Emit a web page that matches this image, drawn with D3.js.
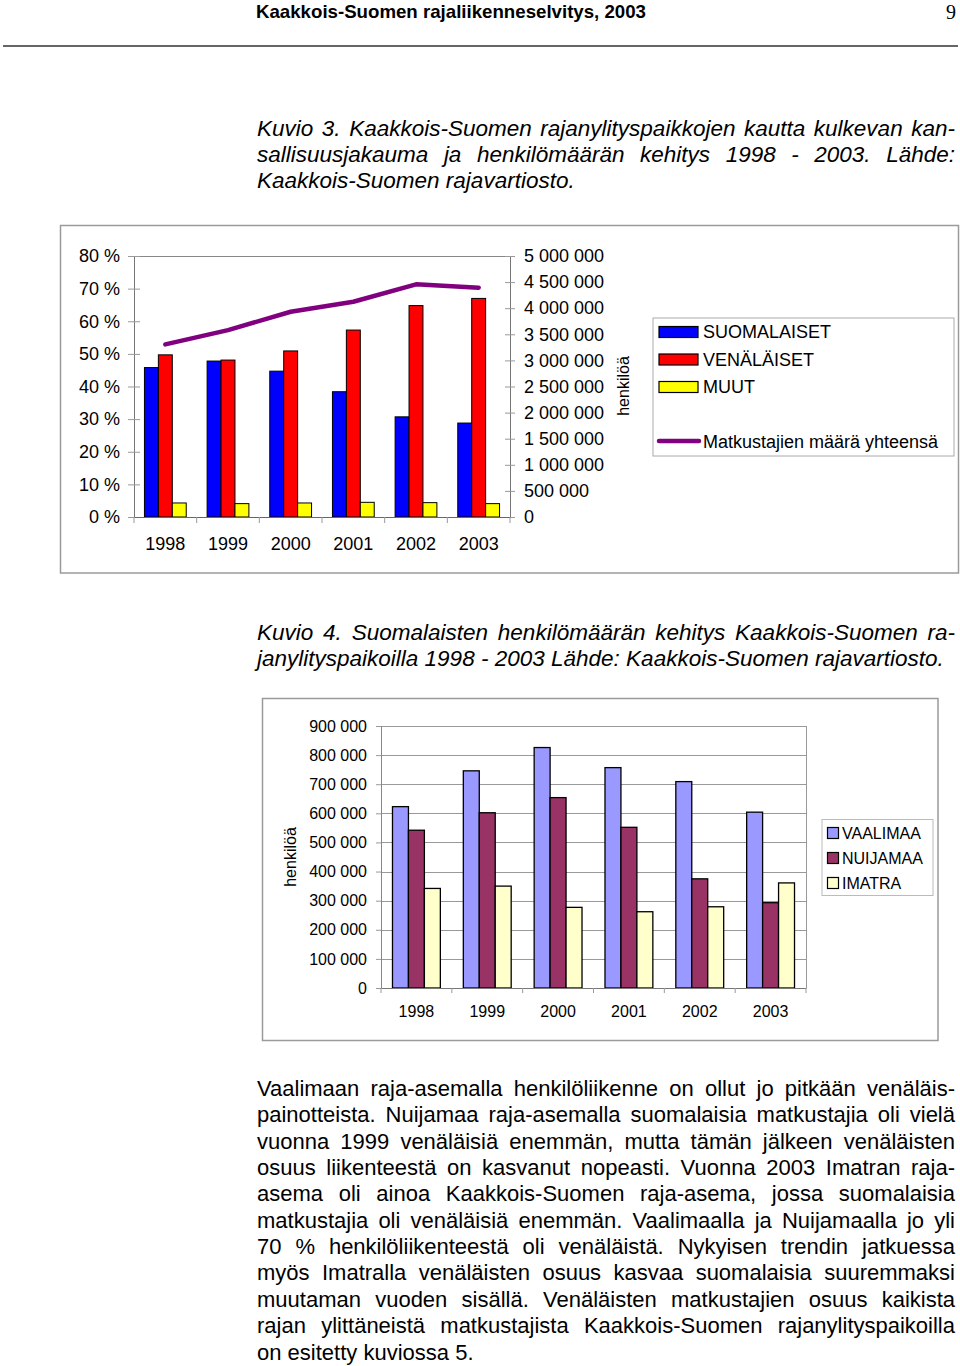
<!DOCTYPE html>
<html><head><meta charset="utf-8">
<script src="https://cdn.jsdelivr.net/npm/d3@7"></script>
<style>
body{margin:0;background:#fff}
svg{display:block}
text{font-family:'Liberation Sans',Arial,Helvetica,sans-serif;fill:#000}
</style>
</head><body>
<svg id="page" width="960" height="1366"></svg>
<script>
// ---------- DATA ----------
const years = ['1998','1999','2000','2001','2002','2003'];
// Kuvio 3: share of nationality (%)
const suomalaiset = [45.8, 47.8, 44.7, 38.4, 30.7, 28.8];
const venalaiset  = [49.7, 48.1, 50.9, 57.3, 64.8, 67.0];
const muut        = [4.3, 4.1, 4.3, 4.5, 4.4, 4.1];
// total travellers (right axis)
const yhteensa    = [3306000, 3581000, 3932000, 4124000, 4457000, 4393000];
const series1Names = ['SUOMALAISET','VENÄLÄISET','MUUT'];
const lineName = 'Matkustajien määrä yhteensä';
const pctTicks = [0,10,20,30,40,50,60,70,80];
const totalTicks = [0,500000,1000000,1500000,2000000,2500000,3000000,3500000,4000000,4500000,5000000];
// Kuvio 4: Finnish travellers by border station
const vaalimaa = [623000, 746000, 826000, 757000, 709000, 604000];
const nuijamaa = [542000, 602000, 654000, 552000, 375000, 293000];
const imatra   = [342000, 350000, 277000, 262000, 279000, 361000];
const series2Names = ['VAALIMAA','NUIJAMAA','IMATRA'];
const persTicks = [0,100000,200000,300000,400000,500000,600000,700000,800000,900000];
const yLabel = 'henkilöä';

const headerText = 'Kaakkois-Suomen rajaliikenneselvitys, 2003';
const pageNo = '9';
const caption3 = ['Kuvio 3. Kaakkois-Suomen rajanylityspaikkojen kautta kulkevan kan-',
  'sallisuusjakauma ja henkilömäärän kehitys 1998 - 2003. Lähde:',
  'Kaakkois-Suomen rajavartiosto.'];
const caption4 = ['Kuvio 4. Suomalaisten henkilömäärän kehitys Kaakkois-Suomen ra-',
  'janylityspaikoilla 1998 - 2003 Lähde: Kaakkois-Suomen rajavartiosto.'];
const bodyLines = [
  'Vaalimaan raja-asemalla henkilöliikenne on ollut jo pitkään venäläis-',
  'painotteista. Nuijamaa raja-asemalla suomalaisia matkustajia oli vielä',
  'vuonna 1999 venäläisiä enemmän, mutta tämän jälkeen venäläisten',
  'osuus liikenteestä on kasvanut nopeasti. Vuonna 2003 Imatran raja-',
  'asema oli ainoa Kaakkois-Suomen raja-asema, jossa suomalaisia',
  'matkustajia oli venäläisiä enemmän. Vaalimaalla ja Nuijamaalla jo yli',
  '70 % henkilöliikenteestä oli venäläistä. Nykyisen trendin jatkuessa',
  'myös Imatralla venäläisten osuus kasvaa suomalaisia suuremmaksi',
  'muutaman vuoden sisällä. Venäläisten matkustajien osuus kaikista',
  'rajan ylittäneistä matkustajista Kaakkois-Suomen rajanylityspaikoilla',
  'on esitetty kuviossa 5.'];

// ---------- HELPERS ----------
const svg = d3.select('#page');
svg.append('rect').attr('width',960).attr('height',1366).attr('fill','#fff');
const fi = d3.formatLocale({decimal:',', thousands:' ', grouping:[3], currency:['','']});
const fmtN = fi.format(',');

function textLines(lines, x0, x1, y0, lh, size, italic){
  const g = svg.append('g').attr('font-size', size).attr('font-style', italic ? 'italic' : 'normal');
  const probe = g.append('text').text('x x');
  const probe2 = g.append('text').text('xx');
  const spaceW = probe.node().getComputedTextLength() - probe2.node().getComputedTextLength();
  probe.remove(); probe2.remove();
  lines.forEach((line, li) => {
    const y = y0 + li * lh;
    const last = li === lines.length - 1;
    const words = line.split(' ');
    const nodes = words.map(w => g.append('text').attr('y', y).text(w));
    const widths = nodes.map(n => n.node().getComputedTextLength());
    const total = d3.sum(widths);
    let gap = last || words.length < 2 ? spaceW : (x1 - x0 - total) / (words.length - 1);
    let k = 1;
    if (gap < spaceW * 0.6) { gap = spaceW * 0.6; k = (x1 - x0 - gap*(words.length-1)) / total; }
    let x = x0;
    nodes.forEach((n, i) => {
      n.attr('x', x);
      if (k !== 1) n.attr('textLength', widths[i]*k).attr('lengthAdjust','spacingAndGlyphs');
      x += widths[i]*k + gap;
    });
  });
}

// ---------- PAGE HEADER ----------
svg.append('text').attr('x',256).attr('y',18).attr('font-size',19).attr('font-weight','bold')
  .attr('textLength',390).attr('lengthAdjust','spacingAndGlyphs').text(headerText);
svg.append('text').attr('x',956).attr('y',19).attr('text-anchor','end').attr('font-size',20)
  .style('font-family',"'Liberation Serif','Times New Roman',serif").text(pageNo);
svg.append('line').attr('x1',3).attr('x2',958).attr('y1',46).attr('y2',46).attr('stroke','#333').attr('stroke-width',1.5);

textLines(caption3, 257, 955, 135.5, 26.2, 22.5, true);
textLines(caption4, 257, 955, 640, 26.2, 22.5, true);
textLines(bodyLines, 257, 955, 1096, 26.35, 22, false);

// ---------- CHART 1 ----------
(function(){
  const c = {left:134, right:510, top:256, bottom:517};
  svg.append('rect').attr('x',60.5).attr('y',225.5).attr('width',898).attr('height',347.5)
    .attr('fill','none').attr('stroke','#9a9a9a').attr('stroke-width',1.5);
  const g = svg.append('g').attr('font-size',18);
  const x0 = d3.scaleBand().domain(years).range([c.left, c.right]).padding(0);
  const xs = d3.scaleBand().domain(series1Names).range([0, x0.bandwidth()]).paddingInner(0).paddingOuter(0.75);
  const y = d3.scaleLinear().domain([0,80]).range([c.bottom, c.top]);
  const yR = d3.scaleLinear().domain([0,5000000]).range([c.bottom, c.top]);
  const colors = ['#0000ff','#ff0000','#ffff00'];
  const vals = [suomalaiset, venalaiset, muut];

  g.append('line').attr('x1',c.left).attr('x2',c.right).attr('y1',c.top+0.5).attr('y2',c.top+0.5).attr('stroke','#888');

  const la = g.append('g').attr('transform',`translate(${c.left},0)`)
    .call(d3.axisLeft(y).tickValues(pctTicks).tickFormat(d => d + ' %').tickSize(6).tickPadding(8));
  la.select('.domain').attr('stroke','#777');
  la.selectAll('.tick line').attr('stroke','#999').attr('x2',-6).attr('x1',6);
  la.selectAll('text').attr('font-size',18).attr('font-family',"'Liberation Sans',Arial,sans-serif");

  const ra = g.append('g').attr('transform',`translate(${c.right},0)`)
    .call(d3.axisRight(yR).tickValues(totalTicks).tickFormat(fmtN).tickSize(5).tickPadding(9));
  ra.select('.domain').attr('stroke','#777');
  ra.selectAll('.tick line').attr('stroke','#999').attr('x1',-5);
  ra.selectAll('text').attr('font-size',18).attr('font-family',"'Liberation Sans',Arial,sans-serif");

  vals.forEach((arr, si) => {
    g.append('g').selectAll('rect').data(arr).join('rect')
      .attr('x', (d,i) => x0(years[i]) + xs(series1Names[si]))
      .attr('y', d => y(d))
      .attr('width', xs.bandwidth())
      .attr('height', d => y(0) - y(d))
      .attr('fill', colors[si]).attr('stroke','#000').attr('stroke-width',1);
  });

  const ba = g.append('g').attr('transform',`translate(0,${c.bottom})`)
    .call(d3.axisBottom(x0).tickSize(0).tickPadding(20));
  ba.select('.domain').attr('stroke','#666');
  ba.selectAll('text').attr('font-size',18).attr('font-family',"'Liberation Sans',Arial,sans-serif");
  const bounds = years.map(d => x0(d)).concat([x0(years[years.length-1]) + x0.bandwidth()]);
  g.append('g').selectAll('line').data(bounds).join('line')
    .attr('x1', d => d).attr('x2', d => d).attr('y1', c.bottom).attr('y2', c.bottom + 6).attr('stroke','#999');

  const line = d3.line().x((d,i) => x0(years[i]) + x0.bandwidth()/2).y(d => yR(d));
  g.append('path').datum(yhteensa).attr('d', line).attr('fill','none')
    .attr('stroke','#800080').attr('stroke-width',4.5).attr('stroke-linecap','round').attr('stroke-linejoin','round');

  g.append('text').attr('transform','translate(629,386) rotate(-90)').attr('text-anchor','middle')
    .attr('font-size',16).text(yLabel);

  const lg = g.append('g');
  lg.append('rect').attr('x',653).attr('y',318).attr('width',301).attr('height',138)
    .attr('fill','#fff').attr('stroke','#aaa').attr('stroke-width',1);
  const ly = [332, 359.5, 387];
  series1Names.forEach((n, i) => {
    lg.append('rect').attr('x',659).attr('y',ly[i]-5.5).attr('width',39).attr('height',11)
      .attr('fill',colors[i]).attr('stroke','#000').attr('stroke-width',1.2);
    lg.append('text').attr('x',703).attr('y',ly[i]).attr('dy','0.36em').attr('font-size',18).text(n);
  });
  lg.append('line').attr('x1',659).attr('x2',699).attr('y1',441).attr('y2',441)
    .attr('stroke','#800080').attr('stroke-width',4.5).attr('stroke-linecap','round');
  lg.append('text').attr('x',703).attr('y',442).attr('dy','0.36em').attr('font-size',18).text(lineName);
})();

// ---------- CHART 2 ----------
(function(){
  const c = {left:381, right:806, top:726, bottom:988};
  svg.append('rect').attr('x',262.5).attr('y',698.5).attr('width',675.5).attr('height',342)
    .attr('fill','none').attr('stroke','#9a9a9a').attr('stroke-width',1.5);
  const g = svg.append('g').attr('font-size',16);
  const x0 = d3.scaleBand().domain(years).range([c.left, c.right]).padding(0);
  const xs = d3.scaleBand().domain(series2Names).range([0, x0.bandwidth()]).paddingInner(0).paddingOuter(0.72);
  const y = d3.scaleLinear().domain([0,900000]).range([c.bottom, c.top]);
  const colors = ['#9999ff','#993366','#ffffcc'];
  const vals = [vaalimaa, nuijamaa, imatra];

  g.append('g').selectAll('line').data(persTicks.slice(1)).join('line')
    .attr('x1', c.left).attr('x2', c.right).attr('y1', d => Math.round(y(d))+0.5).attr('y2', d => Math.round(y(d))+0.5)
    .attr('stroke','#999').attr('stroke-width',1);
  g.append('line').attr('x1',c.right+0.5).attr('x2',c.right+0.5).attr('y1',c.top).attr('y2',c.bottom).attr('stroke','#999');

  const la = g.append('g').attr('transform',`translate(${c.left},0)`)
    .call(d3.axisLeft(y).tickValues(persTicks).tickFormat(fmtN).tickSize(5).tickPadding(9));
  la.select('.domain').attr('stroke','#888');
  la.selectAll('.tick line').attr('stroke','#999');
  la.selectAll('text').attr('font-size',16).attr('font-family',"'Liberation Sans',Arial,sans-serif");

  vals.forEach((arr, si) => {
    g.append('g').selectAll('rect').data(arr).join('rect')
      .attr('x', (d,i) => x0(years[i]) + xs(series2Names[si]))
      .attr('y', d => y(d))
      .attr('width', xs.bandwidth())
      .attr('height', d => y(0) - y(d))
      .attr('fill', colors[si]).attr('stroke','#000').attr('stroke-width',1.3);
  });

  const ba = g.append('g').attr('transform',`translate(0,${c.bottom})`)
    .call(d3.axisBottom(x0).tickSize(0).tickPadding(18));
  ba.select('.domain').attr('stroke','#777');
  ba.selectAll('text').attr('font-size',16).attr('font-family',"'Liberation Sans',Arial,sans-serif");
  const bounds = years.map(d => x0(d)).concat([x0(years[years.length-1]) + x0.bandwidth()]);
  g.append('g').selectAll('line').data(bounds).join('line')
    .attr('x1', d => d).attr('x2', d => d).attr('y1', c.bottom).attr('y2', c.bottom + 5).attr('stroke','#999');

  g.append('text').attr('transform','translate(296,857) rotate(-90)').attr('text-anchor','middle')
    .attr('font-size',16).text(yLabel);

  const lg = g.append('g');
  lg.append('rect').attr('x',822).attr('y',819.5).attr('width',111).attr('height',76)
    .attr('fill','#fff').attr('stroke','#bbb').attr('stroke-width',1);
  const ly = [833, 858, 883];
  series2Names.forEach((n, i) => {
    lg.append('rect').attr('x',827.5).attr('y',ly[i]-5.5).attr('width',11).attr('height',11)
      .attr('fill',colors[i]).attr('stroke','#000').attr('stroke-width',1.2);
    lg.append('text').attr('x',842).attr('y',ly[i]).attr('dy','0.36em').attr('font-size',16).text(n);
  });
})();
</script>
</body></html>
